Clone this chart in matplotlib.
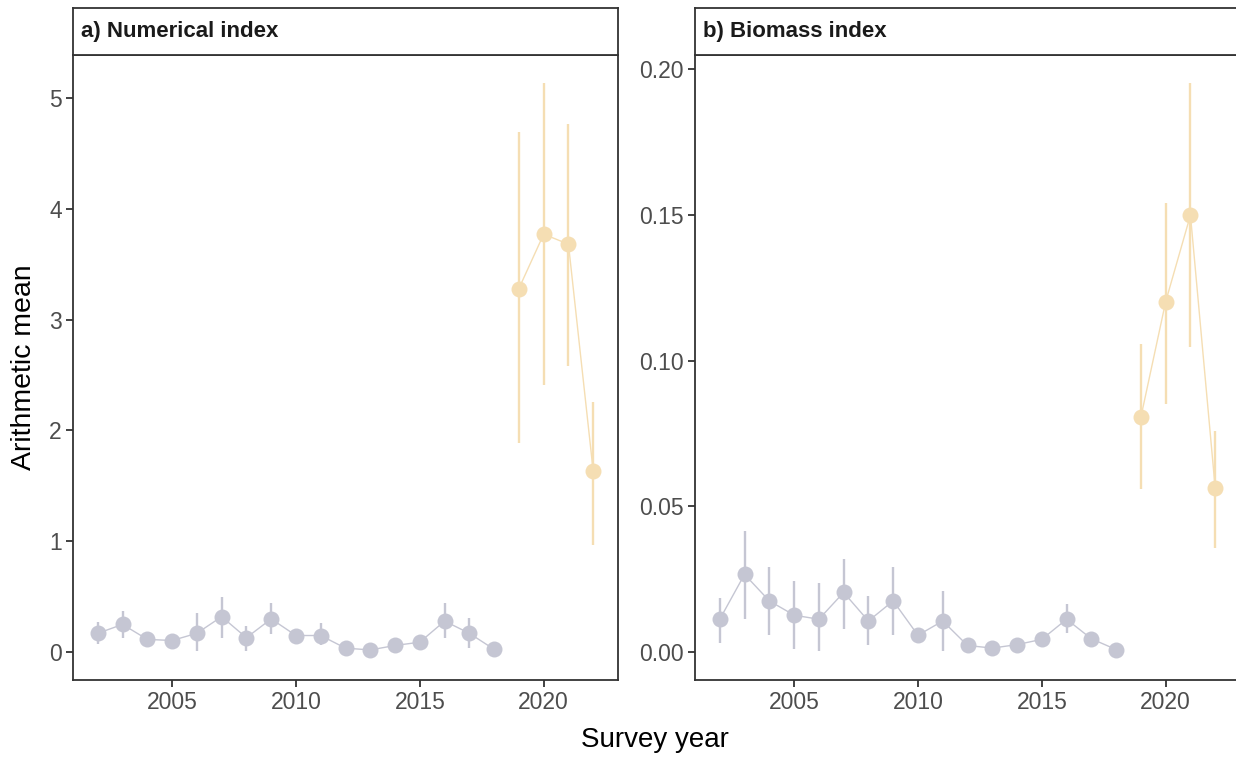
import matplotlib
matplotlib.use("Agg")
import matplotlib.pyplot as plt
import numpy as np

plt.rcParams['font.family'] = ['Liberation Sans', 'DejaVu Sans']

years_hist = list(range(2002, 2019))
years_new = [2019, 2020, 2021, 2022]

# a) Numerical index
num_hist = [0.17, 0.25, 0.115, 0.105, 0.17, 0.32, 0.13, 0.30, 0.15, 0.15, 0.036, 0.02, 0.06, 0.09, 0.28, 0.17, 0.025]
num_hist_lo = [0.07, 0.13, 0.07, 0.06, 0.01, 0.13, 0.01, 0.16, 0.10, 0.06, 0.01, 0.005, 0.03, 0.05, 0.13, 0.04, 0.005]
num_hist_hi = [0.27, 0.37, 0.16, 0.15, 0.35, 0.50, 0.24, 0.44, 0.20, 0.26, 0.06, 0.04, 0.09, 0.13, 0.44, 0.31, 0.05]
num_new = [3.28, 3.77, 3.68, 1.63]
num_new_lo = [1.89, 2.41, 2.58, 0.97]
num_new_hi = [4.69, 5.13, 4.76, 2.26]

# b) Biomass index
bio_hist = [0.0113, 0.0267, 0.0176, 0.0127, 0.0113, 0.0205, 0.0107, 0.0176, 0.0058, 0.0107, 0.0023, 0.0014, 0.0026, 0.0044, 0.0113, 0.0046, 0.0009]
bio_hist_lo = [0.0032, 0.0115, 0.0060, 0.0011, 0.0003, 0.0080, 0.0025, 0.0060, 0.0040, 0.0003, 0.0010, 0.0006, 0.0012, 0.0025, 0.0066, 0.0025, 0.0002]
bio_hist_hi = [0.0187, 0.0416, 0.0292, 0.0244, 0.0238, 0.0320, 0.0194, 0.0292, 0.0076, 0.0209, 0.0036, 0.0022, 0.0040, 0.0063, 0.0167, 0.0067, 0.0016]
bio_new = [0.0807, 0.1203, 0.1500, 0.0562]
bio_new_lo = [0.0559, 0.0852, 0.1048, 0.0359]
bio_new_hi = [0.1059, 0.1541, 0.1952, 0.0759]

titles = ["a) Numerical index", "b) Biomass index"]
y_ticks = [[0, 1, 2, 3, 4, 5], [0.00, 0.05, 0.10, 0.15, 0.20]]
y_ticklabels = [["0", "1", "2", "3", "4", "5"], ["0.00", "0.05", "0.10", "0.15", "0.20"]]
x_ticks = [2005, 2010, 2015, 2020]

grey = "#C5C6D3"
wheat = "#F5DEB3"
frame = "#333333"
tickc = "#4D4D4D"

W, H = 1236, 762
fig = plt.figure(figsize=(W / 100, H / 100), dpi=100)

panels = [
    (num_hist, num_hist_lo, num_hist_hi, num_new, num_new_lo, num_new_hi),
    (bio_hist, bio_hist_lo, bio_hist_hi, bio_new, bio_new_lo, bio_new_hi),
]
lefts = [73, 695]
ax_w = 545
ax_top, ax_bot = 55, 680
strip_top = 8

for i, (h, hlo, hhi, n, nlo, nhi) in enumerate(panels):
    L = lefts[i]
    ax = fig.add_axes([L / W, (H - ax_bot) / H, ax_w / W, (ax_bot - ax_top) / H])
    for yrs, v, lo, hi, c in [(years_hist, h, hlo, hhi, grey), (years_new, n, nlo, nhi, wheat)]:
        ax.vlines(yrs, lo, hi, color=c, lw=1.7, zorder=2)
        ax.plot(yrs, v, color=c, lw=1.0, zorder=2)
        ax.plot(yrs, v, 'o', color=c, ms=11.5, mec='none', zorder=3)
    allv = h + hlo + hhi + n + nlo + nhi
    lo_, hi_ = min(allv), max(allv)
    r = hi_ - lo_
    ax.set_ylim(lo_ - 0.05 * r, hi_ + 0.05 * r)
    ax.set_xlim(2002 - 1.0, 2022 + 1.0)
    ax.set_xticks(x_ticks)
    ax.set_xticklabels([str(x) for x in x_ticks])
    ax.set_yticks(y_ticks[i])
    ax.set_yticklabels(y_ticklabels[i])
    for s in ax.spines.values():
        s.set_color(frame)
        s.set_linewidth(1.3)
    ax.tick_params(direction='out', length=5, width=1.3, color=frame,
                   labelcolor=tickc, labelsize=16.5, pad=3)
    # strip
    sax = fig.add_axes([L / W, (H - ax_top) / H, ax_w / W, (ax_top - strip_top) / H])
    sax.set_xticks([]); sax.set_yticks([])
    for s in sax.spines.values():
        s.set_color(frame)
        s.set_linewidth(1.3)
    if i == 1:
        ax.spines['right'].set_visible(False)
        sax.spines['right'].set_visible(False)
    sax.text(0.015, 0.5, titles[i], transform=sax.transAxes, ha='left', va='center',
             fontsize=16, fontweight='bold', color="#1A1A1A",
             family=['Liberation Sans Narrow', 'Liberation Sans', 'DejaVu Sans'])

fig.text(655 / W, 1 - 740 / H, "Survey year", ha='center', va='center', fontsize=20, color='black')
fig.text(24 / W, 1 - 367 / H, "Arithmetic mean", ha='center', va='center', rotation=90,
         fontsize=20.5, color='black')

fig.savefig("out.png", dpi=100)
